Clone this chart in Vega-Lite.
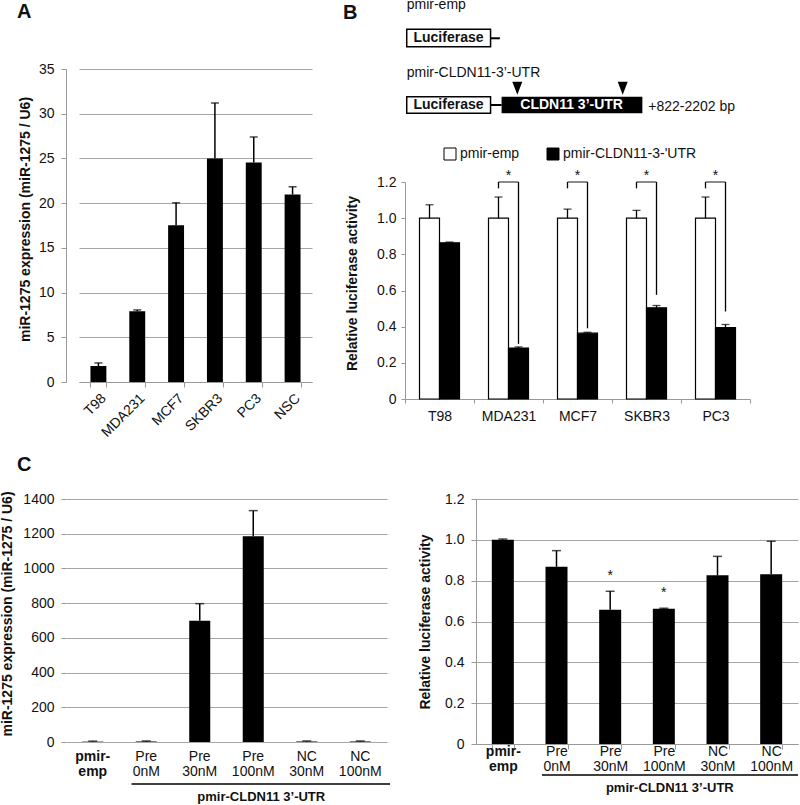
{
  "$schema": "https://vega.github.io/schema/vega-lite/v6.json",
  "autosize": "none",
  "padding": {"left": 66, "top": 69, "right": 734, "bottom": 736},
  "columns": 2,
  "spacing": {"row": 117, "column": 89},
  "align": "none",
  "bounds": "flush",
  "datasets": {
    "panelA": [
      {"cell": "T98", "v": 1.79, "e": 2.13},
      {"cell": "MDA231", "v": 7.91, "e": 8.06},
      {"cell": "MCF7", "v": 17.54, "e": 20.04},
      {"cell": "SKBR3", "v": 25.0, "e": 31.2},
      {"cell": "PC3", "v": 24.55, "e": 27.4},
      {"cell": "NSC", "v": 20.97, "e": 21.83}
    ],
    "panelB": [
      {"cell": "T98", "series": "pmir-emp", "v": 1.0, "e": 1.074},
      {"cell": "T98", "series": "pmir-CLDN11-3-'UTR", "v": 0.864, "e": 0.868},
      {"cell": "MDA231", "series": "pmir-emp", "v": 1.0, "e": 1.117},
      {"cell": "MDA231", "series": "pmir-CLDN11-3-'UTR", "v": 0.282, "e": 0.288},
      {"cell": "MCF7", "series": "pmir-emp", "v": 1.0, "e": 1.05},
      {"cell": "MCF7", "series": "pmir-CLDN11-3-'UTR", "v": 0.364, "e": 0.369},
      {"cell": "SKBR3", "series": "pmir-emp", "v": 1.0, "e": 1.043},
      {"cell": "SKBR3", "series": "pmir-CLDN11-3-'UTR", "v": 0.504, "e": 0.517},
      {"cell": "PC3", "series": "pmir-emp", "v": 1.0, "e": 1.117},
      {"cell": "PC3", "series": "pmir-CLDN11-3-'UTR", "v": 0.395, "e": 0.412}
    ],
    "bracketB": [
      {"cell": "MDA231", "series": "pmir-emp", "lo": 1.165, "hi": 1.2},
      {"cell": "MDA231", "series": "pmir-CLDN11-3-'UTR", "lo": 0.305, "hi": 1.2},
      {"cell": "MCF7", "series": "pmir-emp", "lo": 1.165, "hi": 1.2},
      {"cell": "MCF7", "series": "pmir-CLDN11-3-'UTR", "lo": 0.391, "hi": 1.2},
      {"cell": "SKBR3", "series": "pmir-emp", "lo": 1.165, "hi": 1.2},
      {"cell": "SKBR3", "series": "pmir-CLDN11-3-'UTR", "lo": 0.576, "hi": 1.2},
      {"cell": "PC3", "series": "pmir-emp", "lo": 1.165, "hi": 1.2},
      {"cell": "PC3", "series": "pmir-CLDN11-3-'UTR", "lo": 0.484, "hi": 1.2}
    ],
    "sigB": [
      {"cell": "MDA231"}, {"cell": "MCF7"}, {"cell": "SKBR3"}, {"cell": "PC3"}
    ],
    "diagram": [
      {"part": "box", "label": "Luciferase", "x1": 0.5, "x2": 24.8, "y1": 24.4, "y2": 38.9, "cx": 12.6, "cy": 31.7},
      {"part": "box", "label": "Luciferase", "x1": 0.5, "x2": 24.8, "y1": 80.6, "y2": 94.4, "cx": 12.6, "cy": 87.5},
      {"part": "utr", "label": "CLDN11 3’-UTR", "x1": 28.0, "x2": 68.8, "y1": 80.6, "y2": 94.4, "cx": 48.3, "cy": 87.5},
      {"part": "link", "x1": 24.8, "x2": 27.5, "y1": 31.9},
      {"part": "link", "x1": 24.8, "x2": 28.0, "y1": 87.5},
      {"part": "site", "x1": 32.55, "y1": 73.6},
      {"part": "site", "x1": 63.1, "y1": 73.6},
      {"part": "name", "label": "pmir-emp", "x1": 0.5, "y1": 7.5},
      {"part": "name", "label": "pmir-CLDN11-3’-UTR", "x1": 0.5, "y1": 64.4},
      {"part": "name", "label": "+822-2202 bp", "x1": 70.5, "y1": 92.5}
    ],
    "panelC1": [
      {"cell": "pmir-emp", "v": 2, "e": 5},
      {"cell": "Pre 0nM", "v": 3, "e": 6},
      {"cell": "Pre 30nM", "v": 699, "e": 797},
      {"cell": "Pre 100nM", "v": 1185, "e": 1333},
      {"cell": "NC 30nM", "v": 3, "e": 6},
      {"cell": "NC 100nM", "v": 3, "e": 6}
    ],
    "panelC2": [
      {"cell": "pmir-emp", "v": 1.0, "e": 1.004, "sig": ""},
      {"cell": "Pre 0nM", "v": 0.868, "e": 0.947, "sig": ""},
      {"cell": "Pre 30nM", "v": 0.658, "e": 0.748, "sig": "*"},
      {"cell": "Pre 100nM", "v": 0.662, "e": 0.665, "sig": "*"},
      {"cell": "NC 30nM", "v": 0.826, "e": 0.919, "sig": ""},
      {"cell": "NC 100nM", "v": 0.831, "e": 0.993, "sig": ""}
    ],
    "groupC": [
      {"from": "Pre 0nM", "to": "NC 100nM", "mid": "Pre 100nM", "label": "pmir-CLDN11 3’-UTR"}
    ]
  },
  "concat": [
    {
      "width": 250,
      "height": 313,
      "title": {"text": "A", "dx": -49, "offset": 40},
      "data": {"name": "panelA"},
      "layer": [
        {
          "mark": {"type": "bar", "color": "black"},
          "encoding": {
            "x": {"field": "cell", "type": "nominal",
              "scale": {"domain": ["T98", "MDA231", "MCF7", "SKBR3", "PC3", "NSC"], "range": [13, 246], "paddingInner": 0.59, "paddingOuter": 0.295},
              "axis": {"title": null, "labelAngle": -45, "tickBand": "extent", "labelPadding": 4}},
            "y": {"field": "v", "type": "quantitative",
              "scale": {"domain": [0, 35], "nice": false},
              "axis": {"title": "miR-1275 expression (miR-1275 / U6)", "values": [0, 5, 10, 15, 20, 25, 30, 35], "tickCount": 8, "format": "d", "labelOverlap": false, "grid": true, "titlePadding": 6, "titleY": 150}}
          }
        },
        {
          "mark": {"type": "rule", "strokeWidth": 1.5, "color": "black"},
          "encoding": {
            "x": {"field": "cell", "type": "nominal"},
            "y": {"field": "v", "type": "quantitative"},
            "y2": {"field": "e"}
          }
        },
        {
          "mark": {"type": "tick", "thickness": 1.5, "color": "black", "orient": "horizontal"},
          "encoding": {
            "x": {"field": "cell", "type": "nominal"},
            "y": {"field": "e", "type": "quantitative"},
            "size": {"value": 8}
          }
        }
      ]
    },
    {
      "width": 274,
      "height": 313,
      "title": {"text": "B", "dx": -133, "offset": 0, "dy": 25},
      "layer": [
        {
          "layer": [
            {
              "data": {"name": "panelB"},
              "mark": {"type": "bar", "stroke": "black", "strokeWidth": 1.2},
              "encoding": {
                "x": {"field": "cell", "type": "nominal",
                  "scale": {"domain": ["T98", "MDA231", "MCF7", "SKBR3", "PC3"], "range": [-71, 274], "paddingInner": 0, "paddingOuter": 0},
                  "axis": {"title": null, "labelAngle": 0, "tickBand": "extent", "tickSize": 4, "labelPadding": 6, "offset": 17}},
                "xOffset": {"field": "series", "type": "nominal",
                  "scale": {"domain": ["pmir-emp", "pmir-CLDN11-3-'UTR"], "paddingInner": 0, "paddingOuter": 0.725}},
                "y": {"field": "v", "type": "quantitative",
                  "scale": {"domain": [0, 1.2], "nice": false, "range": [330, 113]},
                  "axis": {"title": "Relative luciferase activity", "values": [0, 0.2, 0.4, 0.6, 0.8, 1, 1.2], "tickCount": 7,
                    "labelExpr": "datum.value == 0 ? '0' : format(datum.value, '.1f')", "labelOverlap": false,
                    "grid": false, "tickSize": 4, "labelPadding": 5, "titlePadding": 17, "titleY": 214, "offset": 71}},
                "fill": {"field": "series", "type": "nominal",
                  "scale": {"domain": ["pmir-emp", "pmir-CLDN11-3-'UTR"], "range": ["white", "black"]},
                  "legend": {"orient": "none", "legendX": 377, "legendY": 78, "direction": "horizontal", "title": null,
                    "symbolType": "square", "symbolSize": 144, "symbolStrokeColor": "black", "symbolStrokeWidth": 1,
                    "labelFontSize": 14, "labelOffset": 3, "columnPadding": 25, "padding": 0, "labelColor": "#111"}}
              }
            },
            {
              "data": {"name": "panelB"},
              "mark": {"type": "rule", "strokeWidth": 1.3, "color": "black"},
              "encoding": {
                "x": {"field": "cell", "type": "nominal"},
                "xOffset": {"field": "series", "type": "nominal"},
                "y": {"field": "v", "type": "quantitative"},
                "y2": {"field": "e"}
              }
            },
            {
              "data": {"name": "panelB"},
              "mark": {"type": "tick", "thickness": 1.3, "color": "black", "orient": "horizontal"},
              "encoding": {
                "x": {"field": "cell", "type": "nominal"},
                "xOffset": {"field": "series", "type": "nominal"},
                "y": {"field": "e", "type": "quantitative"},
                "size": {"value": 8}
              }
            },
            {
              "data": {"name": "bracketB"},
              "mark": {"type": "rule", "strokeWidth": 1.3, "color": "black"},
              "encoding": {
                "x": {"field": "cell", "type": "nominal"},
                "xOffset": {"field": "series", "type": "nominal"},
                "y": {"field": "lo", "type": "quantitative"},
                "y2": {"field": "hi"}
              }
            },
            {
              "data": {"name": "sigB"},
              "mark": {"type": "tick", "thickness": 1.3, "color": "black", "orient": "horizontal"},
              "encoding": {
                "x": {"field": "cell", "type": "nominal"},
                "y": {"datum": 1.2},
                "size": {"value": 20}
              }
            },
            {
              "data": {"name": "sigB"},
              "mark": {"type": "text", "fontSize": 14, "baseline": "alphabetic", "color": "#111"},
              "encoding": {
                "x": {"field": "cell", "type": "nominal"},
                "y": {"datum": 1.212},
                "text": {"value": "*"}
              }
            }
          ]
        },
        {
          "data": {"name": "diagram"},
          "layer": [
            {
              "transform": [{"filter": "datum.part == 'box'"}],
              "mark": {"type": "rect", "fill": "white", "stroke": "black", "strokeWidth": 1.5},
              "encoding": {
                "x": {"field": "x1", "type": "quantitative", "scale": {"domain": [0, 100], "range": [-71, 274]}, "axis": null},
                "x2": {"field": "x2"},
                "y": {"field": "y1", "type": "quantitative", "scale": {"domain": [0, 100], "range": [-69, 51]}, "axis": null},
                "y2": {"field": "y2"}
              }
            },
            {
              "transform": [{"filter": "datum.part == 'utr'"}],
              "mark": {"type": "rect", "fill": "black"},
              "encoding": {
                "x": {"field": "x1", "type": "quantitative"},
                "x2": {"field": "x2"},
                "y": {"field": "y1", "type": "quantitative"},
                "y2": {"field": "y2"}
              }
            },
            {
              "transform": [{"filter": "datum.part == 'link'"}],
              "mark": {"type": "rule", "strokeWidth": 2, "color": "black"},
              "encoding": {
                "x": {"field": "x1", "type": "quantitative"},
                "x2": {"field": "x2"},
                "y": {"field": "y1", "type": "quantitative"}
              }
            },
            {
              "transform": [{"filter": "datum.part == 'site'"}],
              "mark": {"type": "point", "shape": "M-1,-1.3L1,-1.3L0,1.3Z", "filled": true, "color": "black", "size": 100, "opacity": 1},
              "encoding": {
                "x": {"field": "x1", "type": "quantitative"},
                "y": {"field": "y1", "type": "quantitative"}
              }
            },
            {
              "transform": [{"filter": "datum.part == 'box'"}],
              "mark": {"type": "text", "fontSize": 14, "fontWeight": "bold", "align": "center", "baseline": "middle", "color": "#111"},
              "encoding": {
                "x": {"field": "cx", "type": "quantitative"},
                "y": {"field": "cy", "type": "quantitative"},
                "text": {"field": "label"}
              }
            },
            {
              "transform": [{"filter": "datum.part == 'utr'"}],
              "mark": {"type": "text", "fontSize": 14, "fontWeight": "bold", "align": "center", "baseline": "middle", "color": "white"},
              "encoding": {
                "x": {"field": "cx", "type": "quantitative"},
                "y": {"field": "cy", "type": "quantitative"},
                "text": {"field": "label"}
              }
            },
            {
              "transform": [{"filter": "datum.part == 'name'"}],
              "mark": {"type": "text", "fontSize": 14, "align": "left", "baseline": "alphabetic", "color": "#111"},
              "encoding": {
                "x": {"field": "x1", "type": "quantitative"},
                "y": {"field": "y1", "type": "quantitative"},
                "text": {"field": "label"}
              }
            }
          ]
        }
      ],
      "resolve": {"scale": {"x": "independent", "y": "independent"}}
    },
    {
      "width": 321,
      "height": 243,
      "title": {"text": "C", "dx": -49, "offset": 16},
      "layer": [
        {
          "data": {"name": "panelC1"},
          "mark": {"type": "bar", "color": "black"},
          "encoding": {
            "x": {"field": "cell", "type": "nominal",
              "scale": {"domain": ["pmir-emp", "Pre 0nM", "Pre 30nM", "Pre 100nM", "NC 30nM", "NC 100nM"], "paddingInner": 0.607, "paddingOuter": 0.3035},
              "axis": {"title": null, "labelAngle": 0, "domain": false, "ticks": false, "labelPadding": 7, "labelLineHeight": 15,
                "labelExpr": "datum.value == null ? '' : datum.value == 'pmir-emp' ? ['pmir-', 'emp'] : split(datum.value, ' ')",
                "labelFontWeight": {"condition": {"test": "datum.value == 'pmir-emp'", "value": "bold"}, "value": "normal"}}},
            "y": {"field": "v", "type": "quantitative",
              "scale": {"domain": [0, 1400], "nice": false},
              "axis": {"title": "miR-1275 expression (miR-1275 / U6)", "values": [0, 200, 400, 600, 800, 1000, 1200, 1400], "tickCount": 8, "format": "d", "labelOverlap": false, "grid": true, "domain": false, "titlePadding": 8, "titleY": 114.5}}
          }
        },
        {
          "data": {"name": "panelC1"},
          "mark": {"type": "rule", "strokeWidth": 1.5, "color": "black"},
          "encoding": {
            "x": {"field": "cell", "type": "nominal"},
            "y": {"field": "v", "type": "quantitative"},
            "y2": {"field": "e"}
          }
        },
        {
          "data": {"name": "panelC1"},
          "mark": {"type": "tick", "thickness": 1.5, "color": "black", "orient": "horizontal"},
          "encoding": {
            "x": {"field": "cell", "type": "nominal"},
            "y": {"field": "e", "type": "quantitative"},
            "size": {"value": 9}
          }
        },
        {
          "data": {"name": "groupC"},
          "mark": {"type": "rule", "strokeWidth": 1.5, "color": "black"},
          "encoding": {
            "x": {"field": "from", "type": "nominal", "bandPosition": -0.2},
            "x2": {"field": "to", "bandPosition": 1.92},
            "y": {"datum": -242}
          }
        },
        {
          "data": {"name": "groupC"},
          "mark": {"type": "text", "fontSize": 13, "fontWeight": "bold", "dx": 8, "baseline": "middle", "color": "#111"},
          "encoding": {
            "x": {"field": "mid", "type": "nominal"},
            "y": {"datum": -317},
            "text": {"field": "label"}
          }
        }
      ]
    },
    {
      "width": 322,
      "height": 245,
      "layer": [
        {
          "data": {"name": "panelC2"},
          "mark": {"type": "bar", "color": "black"},
          "encoding": {
            "x": {"field": "cell", "type": "nominal",
              "scale": {"domain": ["pmir-emp", "Pre 0nM", "Pre 30nM", "Pre 100nM", "NC 30nM", "NC 100nM"], "paddingInner": 0.59, "paddingOuter": 0.295},
              "axis": {"title": null, "labelAngle": 0, "tickBand": "extent", "labelPadding": -5, "labelLineHeight": 15,
                "labelExpr": "datum.value == null ? '' : datum.value == 'pmir-emp' ? ['pmir-', 'emp'] : split(datum.value, ' ')",
                "labelFontWeight": {"condition": {"test": "datum.value == 'pmir-emp'", "value": "bold"}, "value": "normal"}}},
            "y": {"field": "v", "type": "quantitative",
              "scale": {"domain": [0, 1.2], "nice": false},
              "axis": {"title": "Relative luciferase activity", "values": [0, 0.2, 0.4, 0.6, 0.8, 1, 1.2], "tickCount": 7,
                "labelExpr": "datum.value == 0 ? '0' : format(datum.value, '.1f')", "labelOverlap": false,
                "grid": true, "titlePadding": 12}}
          }
        },
        {
          "data": {"name": "panelC2"},
          "mark": {"type": "rule", "strokeWidth": 1.5, "color": "black"},
          "encoding": {
            "x": {"field": "cell", "type": "nominal"},
            "y": {"field": "v", "type": "quantitative"},
            "y2": {"field": "e"}
          }
        },
        {
          "data": {"name": "panelC2"},
          "mark": {"type": "tick", "thickness": 1.5, "color": "black", "orient": "horizontal"},
          "encoding": {
            "x": {"field": "cell", "type": "nominal"},
            "y": {"field": "e", "type": "quantitative"},
            "size": {"value": 9}
          }
        },
        {
          "data": {"name": "panelC2"},
          "transform": [{"filter": "datum.sig != ''"}],
          "mark": {"type": "text", "fontSize": 14, "baseline": "alphabetic", "dy": -11, "color": "#111"},
          "encoding": {
            "x": {"field": "cell", "type": "nominal"},
            "y": {"field": "e", "type": "quantitative"},
            "text": {"field": "sig"}
          }
        },
        {
          "data": {"name": "groupC"},
          "mark": {"type": "rule", "strokeWidth": 1.5, "color": "black"},
          "encoding": {
            "x": {"field": "from", "type": "nominal", "bandPosition": -0.16},
            "x2": {"field": "to", "bandPosition": 1.72},
            "y": {"datum": -0.152}
          }
        },
        {
          "data": {"name": "groupC"},
          "mark": {"type": "text", "fontSize": 13, "fontWeight": "bold", "dx": 6, "baseline": "middle", "color": "#111"},
          "encoding": {
            "x": {"field": "mid", "type": "nominal"},
            "y": {"datum": -0.215},
            "text": {"field": "label"}
          }
        }
      ]
    }
  ],
  "config": {
    "font": "Liberation Sans",
    "view": {"stroke": null},
    "title": {"fontSize": 20, "fontWeight": "bold", "anchor": "start", "frame": "group", "baseline": "alphabetic", "color": "#111", "font": "Liberation Sans"},
    "axis": {
      "labelFont": "Liberation Sans", "titleFont": "Liberation Sans",
      "labelFontSize": 14, "titleFontSize": 14, "titleFontWeight": "bold",
      "labelColor": "#111", "titleColor": "#111",
      "domainColor": "#999", "tickColor": "#999", "gridColor": "#a6a6a6",
      "tickSize": 5, "labelPadding": 7
    },
    "legend": {"labelFont": "Liberation Sans"}
  }
}
